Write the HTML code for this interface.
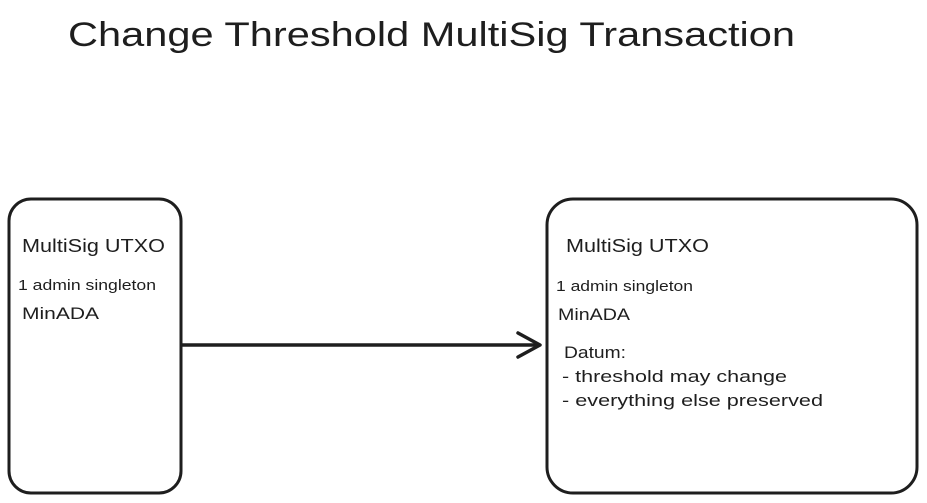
<!DOCTYPE html>
<html>
<head>
<meta charset="utf-8">
<style>
html,body{margin:0;padding:0;background:#fff;}
svg{display:block;}
text{font-family:"Liberation Sans",sans-serif;fill:#1e1e1e;}
</style>
</head>
<body>
<svg width="927" height="503" viewBox="0 0 927 503" xmlns="http://www.w3.org/2000/svg">
<rect width="927" height="503" fill="#fff"/>
<text x="68" y="46" font-size="34" textLength="727" lengthAdjust="spacingAndGlyphs">Change Threshold MultiSig Transaction</text>

<rect x="9" y="199" width="172" height="294" rx="22" fill="none" stroke="#1e1e1e" stroke-width="3"/>
<rect x="547" y="199" width="370" height="294" rx="26" fill="none" stroke="#1e1e1e" stroke-width="3"/>

<path d="M182 345 L539 345" stroke="#1e1e1e" stroke-width="3.5" fill="none" stroke-linecap="round"/>
<path d="M518 333 L540 345 L518 357" stroke="#1e1e1e" stroke-width="3.5" fill="none" stroke-linecap="round" stroke-linejoin="round"/>

<text x="22" y="252" font-size="18" textLength="143" lengthAdjust="spacingAndGlyphs">MultiSig UTXO</text>
<text x="18" y="290" font-size="15" textLength="138" lengthAdjust="spacingAndGlyphs">1 admin singleton</text>
<text x="22" y="319" font-size="17" textLength="77" lengthAdjust="spacingAndGlyphs">MinADA</text>

<text x="566" y="252" font-size="18" textLength="143" lengthAdjust="spacingAndGlyphs">MultiSig UTXO</text>
<text x="556" y="291" font-size="15" textLength="137" lengthAdjust="spacingAndGlyphs">1 admin singleton</text>
<text x="558" y="320" font-size="17" textLength="72" lengthAdjust="spacingAndGlyphs">MinADA</text>
<text x="564" y="358" font-size="17" textLength="62" lengthAdjust="spacingAndGlyphs">Datum:</text>
<text x="562" y="382" font-size="17" textLength="225" lengthAdjust="spacingAndGlyphs">- threshold may change</text>
<text x="562" y="406" font-size="17" textLength="261" lengthAdjust="spacingAndGlyphs">- everything else preserved</text>
</svg>
</body>
</html>
